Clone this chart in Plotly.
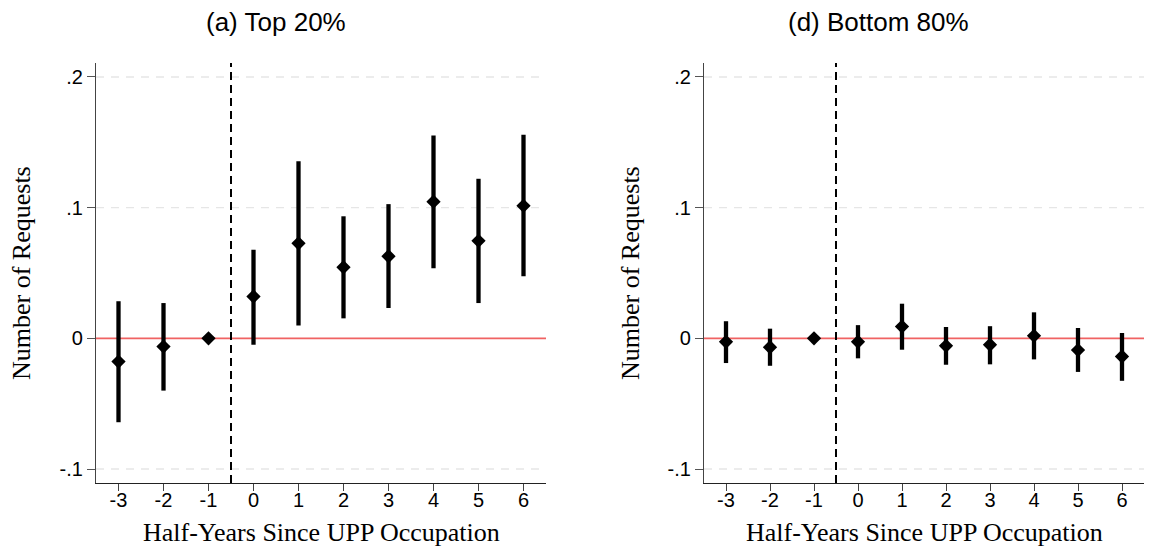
import plotly.graph_objects as go

periods = [-3, -2, -1, 0, 1, 2, 3, 4, 5, 6]
x_tick_labels = ["-3", "-2", "-1", "0", "1", "2", "3", "4", "5", "6"]
y_tick_vals = [-0.1, 0, 0.1, 0.2]
y_tick_labels = ["-.1", "0", ".1", ".2"]

top_est = [-0.0178, -0.0063, 0.0, 0.032, 0.0727, 0.0544, 0.0628, 0.1046, 0.0746, 0.1014]
top_hi = [0.0284, 0.027, 0.0, 0.0678, 0.1355, 0.0934, 0.1027, 0.1552, 0.1221, 0.1557]
top_lo = [-0.0642, -0.040, 0.0, -0.0049, 0.0098, 0.0153, 0.0232, 0.0536, 0.027, 0.0475]

bot_est = [-0.0027, -0.0068, 0.0, -0.0027, 0.009, -0.0057, -0.0049, 0.0019, -0.009, -0.0139]
bot_hi = [0.0131, 0.0074, 0.0, 0.0101, 0.0265, 0.0087, 0.0093, 0.0199, 0.0079, 0.0041]
bot_lo = [-0.0189, -0.021, 0.0, -0.0153, -0.0087, -0.0202, -0.0199, -0.0161, -0.0257, -0.0325]

titles = ["(a) Top 20%", "(d) Bottom 80%"]
x_title = "Half-Years Since UPP Occupation"
y_title = "Number of Requests"

W, H = 1153, 552
SANS = "Liberation Sans, Arial, sans-serif"
SERIF = "Liberation Serif, Times New Roman, serif"
fig = go.Figure()

# (estimates, upper, lower, plot x-range px, title center px, y-title center px, axes)
panels = [
    (top_est, top_hi, top_lo, (96, 546), 276, 21, "x", "y"),
    (bot_est, bot_hi, bot_lo, (704, 1144), 879, 630, "x2", "y2"),
]
ytop, ybot = 63, 483
ydom = [1 - ybot / H, 1 - ytop / H]

for i, (est, hi, lo, (xl, xr), tcx, ytx, xa, ya) in enumerate(panels):
    plus = [h - e for h, e in zip(hi, est)]
    minus = [e - l for e, l in zip(est, lo)]
    fig.add_trace(go.Scatter(
        x=periods, y=est, mode="markers", xaxis=xa, yaxis=ya,
        marker=dict(symbol="diamond", size=11, color="black", line=dict(width=0)),
        error_y=dict(type="data", symmetric=False, array=plus, arrayminus=minus,
                     width=0, thickness=4.3, color="black"),
        showlegend=False, cliponaxis=False,
    ))
    suffix = "" if i == 0 else "2"
    common_x = dict(
        domain=[xl / W, xr / W], range=[-3.5, 6.5],
        tickmode="array", tickvals=periods, ticktext=x_tick_labels,
        showgrid=False, zeroline=False, showline=True, linecolor="#222", linewidth=1.3,
        ticks="outside", ticklen=7, tickcolor="#444", tickwidth=1.3,
        tickfont=dict(family=SANS, size=20, color="black"),
        ticklabelstandoff=-8,
        anchor=ya, fixedrange=True,
    )
    common_y = dict(
        domain=ydom, range=[-0.1107, 0.2107],
        tickmode="array", tickvals=y_tick_vals, ticktext=y_tick_labels,
        showgrid=False, zeroline=False, showline=True, linecolor="#444", linewidth=1.3,
        ticks="outside", ticklen=8, tickcolor="#555", tickwidth=1.3,
        tickfont=dict(family=SANS, size=20, color="black"),
        anchor=xa, fixedrange=True,
    )
    fig.update_layout(**{"xaxis" + suffix: common_x, "yaxis" + suffix: common_y})
    # light dashed gridlines at the non-zero ticks
    for tv in y_tick_vals:
        if tv != 0:
            fig.add_shape(type="line", xref=xa + " domain", yref=ya, x0=0, x1=1, y0=tv, y1=tv,
                          line=dict(color="#e6e6e6", width=1.3, dash="8px,7px"), layer="below")
    # red zero line
    fig.add_shape(type="line", xref=xa + " domain", yref=ya, x0=0, x1=1, y0=0, y1=0,
                  line=dict(color="#f06262", width=1.6), layer="below")
    # dashed vertical line at treatment
    fig.add_shape(type="line", xref=xa, yref=ya + " domain", x0=-0.5, x1=-0.5, y0=0, y1=1,
                  line=dict(color="black", width=2, dash="8px,5px"), layer="above")
    # panel title
    fig.add_annotation(text=titles[i], xref="paper", yref="paper",
                       x=tcx / W, y=1 - 21.5 / H, showarrow=False,
                       font=dict(family=SANS, size=26, color="black"),
                       xanchor="center", yanchor="middle")
    # x-axis title
    fig.add_annotation(text=x_title, xref="paper", yref="paper",
                       x=((xl + xr) / 2) / W, y=1 - 532 / H, showarrow=False,
                       font=dict(family=SERIF, size=26, color="black"),
                       xanchor="center", yanchor="middle")
    # y-axis title
    fig.add_annotation(text=y_title, xref="paper", yref="paper",
                       x=ytx / W, y=1 - ((ytop + ybot) / 2) / H, showarrow=False,
                       textangle=-90,
                       font=dict(family=SERIF, size=26, color="black"),
                       xanchor="center", yanchor="middle")

fig.update_layout(
    width=W, height=H, margin=dict(l=0, r=0, t=0, b=0),
    plot_bgcolor="white", paper_bgcolor="white",
)

fig.write_html("out.html", config={"displayModeBar": False},
               post_script="document.body.style.margin='0';document.body.style.overflow='hidden';")
